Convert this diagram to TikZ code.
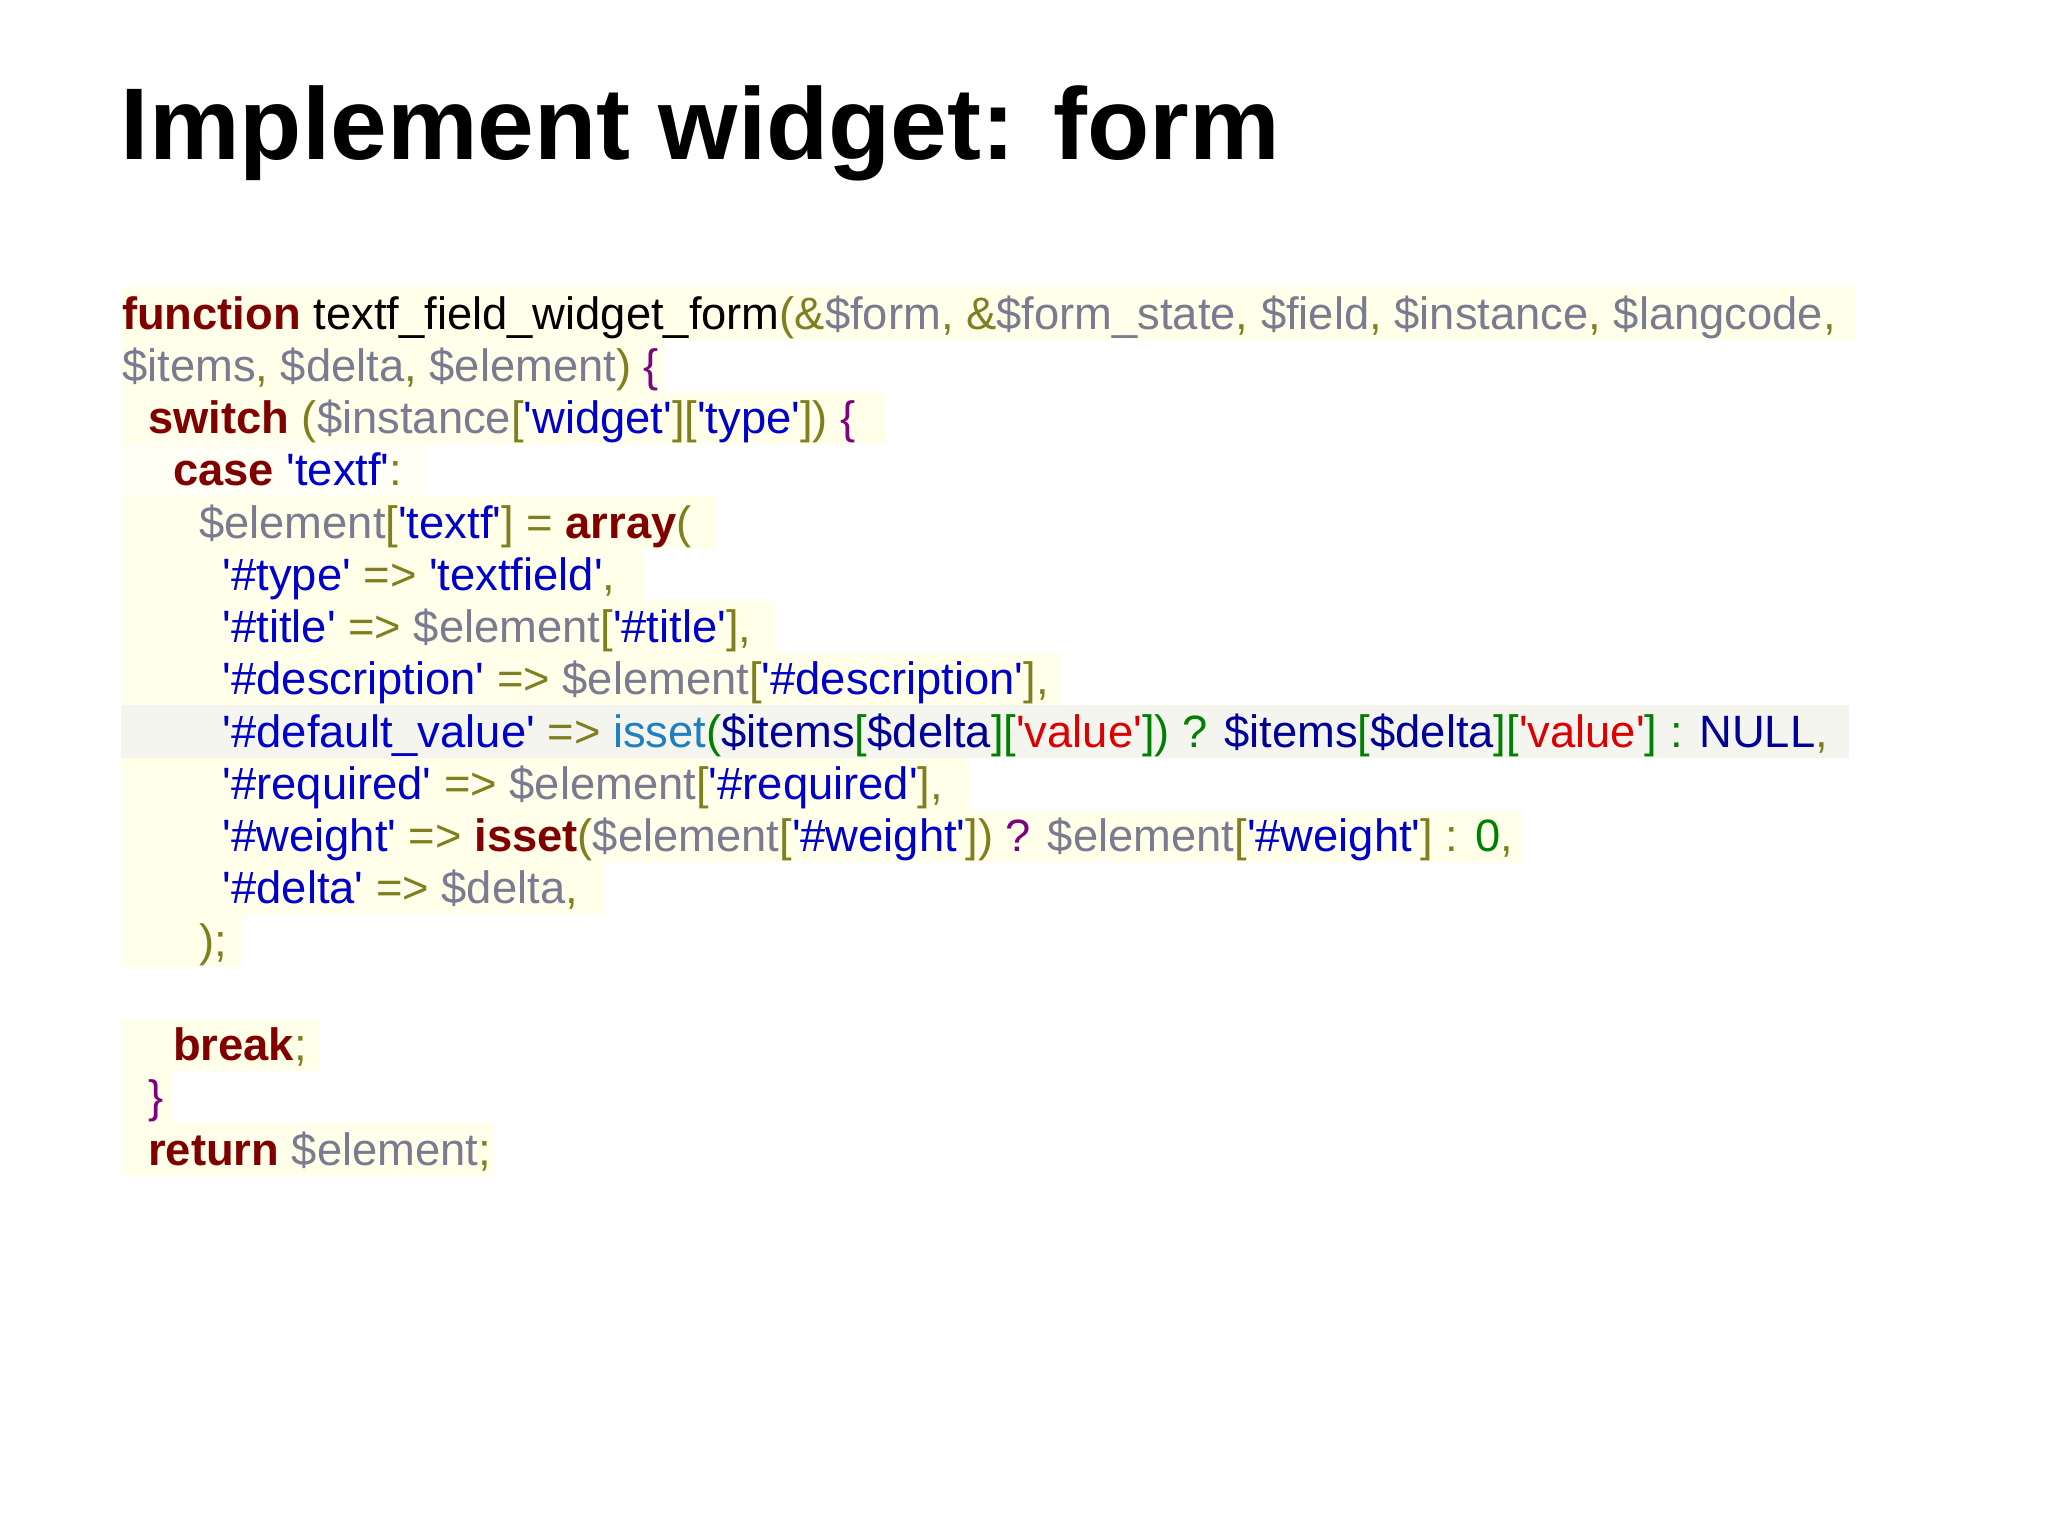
\documentclass[tikz,border=0pt]{standalone}
\usepackage{fontspec}
\setmainfont{Liberation Sans}
\definecolor{kwc}{HTML}{800000}
\definecolor{puc}{HTML}{7F7F1F}
\definecolor{vac}{HTML}{7A7A90}
\definecolor{stc}{HTML}{0000CC}
\definecolor{brc}{HTML}{800080}
\definecolor{cbc}{HTML}{1F7FC0}
\definecolor{cgc}{HTML}{008000}
\definecolor{crc}{HTML}{DD0000}
\definecolor{cnc}{HTML}{000099}
\definecolor{hl}{HTML}{FFFFEA}
\definecolor{hlg}{HTML}{F3F5EE}
\newcommand\q{\textquotesingle}
\newcommand\kw[1]{\textcolor{kwc}{\bfseries #1}}
\newcommand\pu[1]{\textcolor{puc}{#1}}
\newcommand\va[1]{\textcolor{vac}{#1}}
\newcommand\st[1]{\textcolor{stc}{#1}}
\newcommand\br[1]{\textcolor{brc}{#1}}
\newcommand\cb[1]{\textcolor{cbc}{#1}}
\newcommand\cg[1]{\textcolor{cgc}{#1}}
\newcommand\cre[1]{\textcolor{crc}{#1}}
\newcommand\cn[1]{\textcolor{cnc}{#1}}
\begin{document}
\begin{tikzpicture}[x=0.01306cm,y=-0.01306cm,
  code/.style={anchor=base west,inner sep=0pt,font=\fontsize{12.9pt}{15pt}\selectfont}]
\useasboundingbox[fill=white] (0,0) rectangle (1568,1176);
\foreach \n/\e in {1/1420,2/508,3/678,5/548,6/492,7/594,8/812,10/742,11/1165,12/462,13/185,15/244,16/132,17/378}
  \fill[hl] (93,{220+40*(\n-1)}) rectangle (\e,{260+40*(\n-1)});
\fill[hl!50!white] (93,340) rectangle (328,380);
\fill[hlg] (93,540) rectangle (1416,580);
\node[anchor=base west,inner sep=0pt,font=\fontsize{29pt}{34pt}\selectfont\bfseries] (title) at (92,122) {Implement widget: form};
\node[code] (l1) at (93,252) {\kw{function} textf\_field\_widget\_form\pu{(\&}\va{\$form}\pu{, \&}\va{\$form\_state}\pu{, }\va{\$field}\pu{, }\va{\$instance}\pu{, }\va{\$langcode}\pu{,}};
\node[code] (l2) at (93,292) {\va{\$items}\pu{, }\va{\$delta}\pu{, }\va{\$element}\pu{)} \br{\{}};
\node[code] (l3) at (113,332) {\kw{switch} \pu{(}\va{\$instance}\pu{[}\st{\q widget\q}\pu{][}\st{\q type\q}\pu{])} \br{\{}};
\node[code] (l4) at (132,372) {\kw{case} \st{\q textf\q}\pu{:}};
\node[code] (l5) at (152,412) {\va{\$element}\pu{[}\st{\q textf\q}\pu{] = }\kw{array}\pu{(}};
\node[code] (l6) at (170,452) {\st{\q\#type\q} \pu{=>} \st{\q textfield\q}\pu{,}};
\node[code] (l7) at (170,492) {\st{\q\#title\q} \pu{=>} \va{\$element}\pu{[}\st{\q\#title\q}\pu{],}};
\node[code] (l8) at (170,532) {\st{\q\#description\q} \pu{=>} \va{\$element}\pu{[}\st{\q\#description\q}\pu{],}};
\node[code] (l9) at (170,572) {\st{\q\#default\_value\q} \pu{=>} \cb{isset}\cg{(}\cn{\$items}\cg{[}\cn{\$delta}\cg{][}\cre{\q value\q}\cg{])} \cg{?} \cn{\$items}\cg{[}\cn{\$delta}\cg{][}\cre{\q value\q}\cg{]} \cg{:} \cn{NULL}\pu{,}};
\node[code] (l10) at (170,612) {\st{\q\#required\q} \pu{=>} \va{\$element}\pu{[}\st{\q\#required\q}\pu{],}};
\node[code] (l11) at (170,652) {\st{\q\#weight\q} \pu{=>} \kw{isset}\pu{(}\va{\$element}\pu{[}\st{\q\#weight\q}\pu{])} \br{?} \va{\$element}\pu{[}\st{\q\#weight\q}\pu{]} \pu{:} \cg{0}\pu{,}};
\node[code] (l12) at (170,692) {\st{\q\#delta\q} \pu{=>} \va{\$delta}\pu{,}};
\node[code] (l13) at (152,732) {\pu{);}};
\node[code] (l15) at (132,812) {\kw{break}\pu{;}};
\node[code] (l16) at (113,852) {\br{\}}};
\node[code] (l17) at (113,892) {\kw{return} \va{\$element}\pu{;}};
\end{tikzpicture}
\end{document}
